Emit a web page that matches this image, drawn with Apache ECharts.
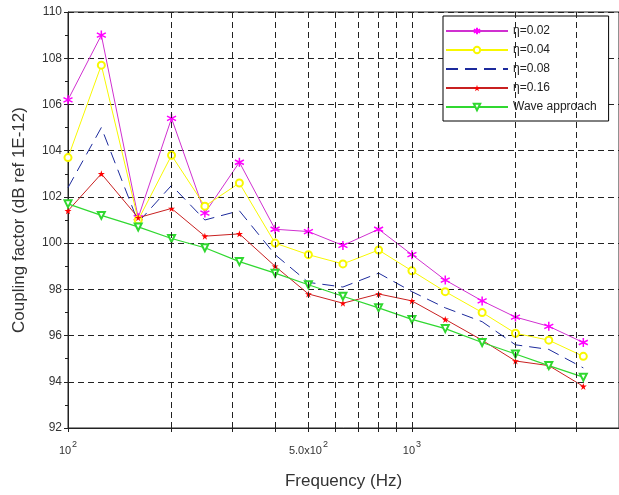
<!DOCTYPE html>
<html>
<head>
<meta charset="utf-8">
<script src="https://cdn.jsdelivr.net/npm/echarts@6/dist/echarts.min.js"></script>
<style>
  html, body { margin: 0; padding: 0; background: #fff; }
  #chart { width: 619px; height: 495px; }
</style>
</head>
<body>
<div id="chart"></div>
<script>
  // third-octave band centres (Hz)
  var freqs = [100, 125, 160, 200, 250, 315, 400, 500, 630, 800, 1000, 1250, 1600, 2000, 2500, 3150]

  var eta002 = [106.2, 109.0, 101.1, 105.4, 101.3, 103.5, 100.6, 100.5, 99.9, 100.6, 99.5, 98.4, 97.5, 96.8, 96.4, 95.7]
  var eta004 = [103.7, 107.7, 101.0, 103.8, 101.6, 102.6, 100.0, 99.5, 99.1, 99.7, 98.8, 97.9, 97.0, 96.1, 95.8, 95.1]
  var eta008 = [102.4, 105.0, 100.9, 102.5, 101.0, 101.4, 99.5, 98.3, 98.1, 98.7, 97.9, 97.2, 96.6, 95.6, 95.4, 94.6]
  var eta016 = [101.4, 103.0, 101.1, 101.5, 100.3, 100.4, 99.0, 97.8, 97.4, 97.8, 97.5, 96.7, 95.8, 94.9, 94.7, 93.8]
  var wave   = [101.7, 101.2, 100.7, 100.2, 99.8, 99.2, 98.7, 98.2, 97.7, 97.2, 96.7, 96.3, 95.7, 95.2, 94.7, 94.2]

  var xTicks = [100, 200, 300, 400, 500, 600, 700, 800, 900, 1000, 2000, 3000]
  var xLabels = [100, 500, 1000]
  var xGrid = [200, 300, 400, 500, 600, 700, 800, 900, 1000, 2000, 3000]

  function pairs(ys) {
    var out = []
    for (var i = 0; i < freqs.length; i++) {
      out.push([freqs[i], ys[i]])
    }
    return out
  }

  var asterisk = 'path://M0,-10L0,10M-9,-5L9,5M-9,5L9,-5'
  var star = 'path://M50,0L61,35L98,35L68,57L79,91L50,70L21,91L32,57L2,35L39,35Z'

  var chart = echarts.init(document.getElementById('chart'))
  chart.setOption({
    animation: false,
    textStyle: { fontFamily: 'Liberation Sans, Arial, sans-serif' },
    grid: {
      left: 68, top: 12, width: 554, height: 418,
      show: true, borderColor: '#222', borderWidth: 1
    },
    legend: {
      left: 443, top: 16,
      orient: 'vertical',
      padding: [9, 12, 8, 2],
      itemGap: 7,
      itemWidth: 62,
      itemHeight: 8,
      backgroundColor: '#fff',
      borderColor: '#000',
      borderWidth: 1,
      borderRadius: 0,
      textStyle: { fontSize: 12, color: '#222' },
      data: [
        { name: 'η=0.02' },
        { name: 'η=0.04' },
        { name: 'η=0.08', itemStyle: { opacity: 0 } },
        { name: 'η=0.16' },
        { name: 'Wave approach' }
      ]
    },
    xAxis: {
      type: 'log',
      logBase: 10,
      min: 100,
      max: 4000,
      name: 'Frequency (Hz)',
      nameLocation: 'middle',
      nameGap: 45,
      nameTextStyle: { fontSize: 17, color: '#333' },
      axisLine: { lineStyle: { color: '#222' } },
      axisTick: { customValues: xTicks, length: 4, lineStyle: { color: '#222' } },
      axisLabel: {
        customValues: xLabels,
        margin: 11,
        color: '#333',
        formatter: function (v) {
          var exp = Math.round(Math.log10(v))
          if (Math.abs(Math.pow(10, exp) - v) < 1e-6) {
            return '{b|10}{s|' + exp + '}'
          }
          var m = v / Math.pow(10, Math.floor(Math.log10(v)))
          return '{b|' + m.toFixed(1) + 'x10}{s|' + Math.floor(Math.log10(v)) + '}'
        },
        rich: {
          b: { fontSize: 11, color: '#333', padding: [6, 0, 0, 0] },
          s: { fontSize: 9, color: '#333', padding: [0, 0, 6, 1] }
        }
      },
      splitLine: { show: false }
    },
    yAxis: {
      type: 'value',
      min: 92,
      max: 110,
      interval: 2,
      name: 'Coupling factor (dB ref 1E-12)',
      nameLocation: 'middle',
      nameGap: 40,
      nameTextStyle: { fontSize: 17, color: '#333' },
      axisLine: { show: true, lineStyle: { color: '#222' } },
      axisTick: { show: true, length: 4, lineStyle: { color: '#222' } },
      minorTick: { show: true, splitNumber: 2, length: 3, lineStyle: { color: '#222' } },
      axisLabel: { fontSize: 12, color: '#333', margin: 6 },
      splitLine: { show: true, lineStyle: { color: '#222', type: [6, 4], width: 1 } }
    },
    series: [
      {
        name: 'grid',
        type: 'line',
        data: [],
        z: 1,
        silent: true,
        markLine: {
          silent: true,
          symbol: 'none',
          label: { show: false },
          lineStyle: { color: '#222', type: [6, 4], width: 1 },
          data: xGrid.map(function (f) { return { xAxis: f } })
        }
      },
      {
        name: 'η=0.02',
        type: 'line',
        z: 3,
        data: pairs(eta002),
        symbol: asterisk,
        symbolSize: 9,
        lineStyle: { color: '#d030d0', width: 1 },
        itemStyle: { color: '#ff00ff', borderColor: '#ff00ff', borderWidth: 1.5 }
      },
      {
        name: 'η=0.04',
        type: 'line',
        z: 3,
        data: pairs(eta004),
        symbol: 'emptyCircle',
        symbolSize: 7,
        lineStyle: { color: '#f8f800', width: 1 },
        itemStyle: { color: '#f8f800', borderColor: '#f8f800', borderWidth: 1.2 }
      },
      {
        name: 'η=0.08',
        type: 'line',
        z: 3,
        data: pairs(eta008),
        symbol: 'none',
        lineStyle: { color: '#1c2a9c', width: 1, type: [12, 7] },
        itemStyle: { color: '#1c2a9c' }
      },
      {
        name: 'η=0.16',
        type: 'line',
        z: 3,
        data: pairs(eta016),
        symbol: star,
        symbolSize: 7,
        lineStyle: { color: '#c82020', width: 1 },
        itemStyle: { color: '#ff0000' }
      },
      {
        name: 'Wave approach',
        type: 'line',
        z: 3,
        data: pairs(wave),
        symbol: 'emptyTriangle',
        symbolRotate: 180,
        symbolSize: 7,
        lineStyle: { color: '#30d830', width: 1.2 },
        itemStyle: { color: '#30d830', borderColor: '#30d830', borderWidth: 1.2 }
      }
    ]
  })
</script>
</body>
</html>
